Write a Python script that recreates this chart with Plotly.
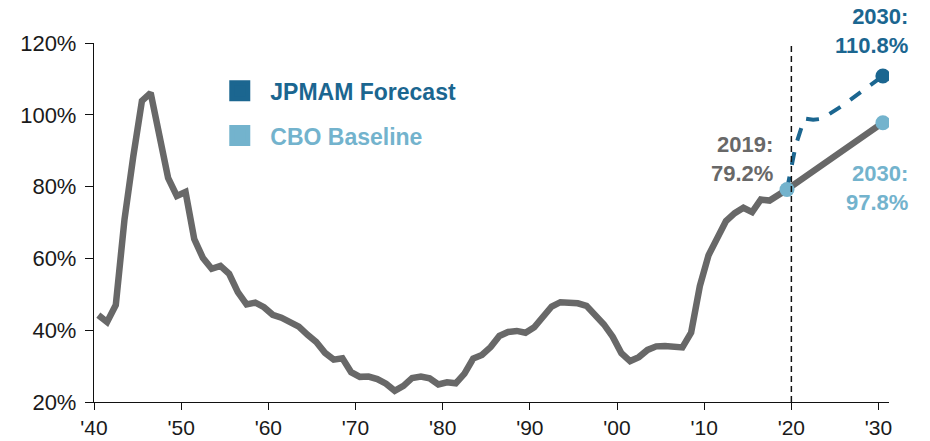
import plotly.graph_objects as go

# Federal debt held by the public, % of GDP, fiscal years 1940-2019
hist_years = list(range(1940, 2020))
hist_debt = [
    44.2, 42.3, 47.0, 70.9, 88.3, 103.9, 106.1, 93.9, 82.4, 77.4,
    78.5, 65.4, 60.1, 57.1, 57.9, 55.7, 50.6, 47.2, 47.7, 46.4,
    44.3, 43.5, 42.3, 41.0, 38.7, 36.7, 33.7, 31.8, 32.2, 28.3,
    27.0, 27.1, 26.4, 25.1, 23.1, 24.5, 26.7, 27.1, 26.6, 24.9,
    25.5, 25.2, 27.9, 32.1, 33.1, 35.3, 38.4, 39.5, 39.8, 39.3,
    40.8, 44.0, 46.6, 47.8, 47.7, 47.5, 46.8, 44.5, 41.6, 38.2,
    33.6, 31.4, 32.5, 34.5, 35.5, 35.6, 35.3, 35.2, 39.3, 52.3,
    60.9, 65.9, 70.4, 72.6, 74.1, 72.9, 76.4, 76.1, 77.4, 79.2,
]

# Projections 2019-2030 (both start from the 2019 actual)
proj_years = list(range(2019, 2031))
cbo_baseline = [79.2, 80.9, 82.6, 84.3, 86.0, 87.7, 89.4, 91.0, 92.7, 94.4, 96.1, 97.8]
jpmam_forecast = [79.2, 91.5, 99.0, 98.6, 98.9, 100.3, 102.0, 103.7, 105.4, 107.1, 108.9, 110.8]

x_ticks = [1940, 1950, 1960, 1970, 1980, 1990, 2000, 2010, 2020, 2030]
x_labels = ["'40", "'50", "'60", "'70", "'80", "'90", "'00", "'10", "'20", "'30"]
y_ticks = [20, 40, 60, 80, 100, 120]
y_labels = [f"{v}%" for v in y_ticks]

GRAY = "#686868"
DARK_BLUE = "#1b6690"
LIGHT_BLUE = "#73b3cd"
FONT = "Liberation Sans, Arial, sans-serif"

# each fiscal year is drawn at the middle of its year interval
def mid(years):
    return [y + 0.5 for y in years]

fig = go.Figure()

# history + CBO baseline as one continuous gray line
fig.add_trace(go.Scatter(
    x=mid(hist_years) + mid(proj_years[1:]),
    y=hist_debt + cbo_baseline[1:],
    mode="lines", line=dict(color=GRAY, width=6.5, shape="linear"),
    showlegend=False, hoverinfo="skip",
))

# JPMAM forecast, dashed
fig.add_trace(go.Scatter(
    x=mid(proj_years), y=jpmam_forecast,
    mode="lines", line=dict(color=DARK_BLUE, width=4, dash="13px,12px"),
    showlegend=False, hoverinfo="skip",
))

# end-point markers
fig.add_trace(go.Scatter(
    x=[mid(proj_years)[-1]], y=[jpmam_forecast[-1]],
    mode="markers", marker=dict(color=DARK_BLUE, size=15),
    showlegend=False, hoverinfo="skip",
))
fig.add_trace(go.Scatter(
    x=[mid(proj_years)[0], mid(proj_years)[-1]],
    y=[cbo_baseline[0], cbo_baseline[-1]],
    mode="markers", marker=dict(color=LIGHT_BLUE, size=15),
    showlegend=False, hoverinfo="skip",
))

# legend entries
for name, color in [("JPMAM Forecast", DARK_BLUE), ("CBO Baseline", LIGHT_BLUE)]:
    fig.add_trace(go.Scatter(
        x=[None], y=[None], mode="markers",
        name=f"<span style='color:{color}'><b>{name}</b></span>",
        legendgroup=name,
        marker=dict(symbol="square", size=16, color=color, line=dict(color=color, width=5)),
    ))

# 2020 divider
fig.add_shape(type="line", xref="x", yref="paper", x0=2020, x1=2020, y0=0, y1=1,
              line=dict(color="#111111", width=1.5, dash="6px,4px"))

# value labels
label_font = dict(family=FONT, size=22)
fig.add_annotation(x=mid(proj_years)[-1], y=jpmam_forecast[-1], xref="x", yref="y",
                   text=f"<b>2030:<br>{jpmam_forecast[-1]:.1f}%</b>", showarrow=False,
                   xanchor="right", yanchor="bottom", align="right", xshift=27, yshift=16,
                   font=dict(label_font, color=DARK_BLUE))
fig.add_annotation(x=mid(proj_years)[-1], y=cbo_baseline[-1], xref="x", yref="y",
                   text=f"<b>2030:<br>{cbo_baseline[-1]:.1f}%</b>", showarrow=False,
                   xanchor="right", yanchor="top", align="right", xshift=27, yshift=-36,
                   font=dict(label_font, color=LIGHT_BLUE))
fig.add_annotation(x=mid(proj_years)[0], y=cbo_baseline[0], xref="x", yref="y",
                   text=f"<b>2019:<br>{cbo_baseline[0]:.1f}%</b>", showarrow=False,
                   xanchor="right", yanchor="bottom", align="right", xshift=-12, yshift=1,
                   font=dict(label_font, color=GRAY))

fig.update_layout(
    width=930, height=441,
    margin=dict(l=94, r=41, t=43, b=39),
    paper_bgcolor="white", plot_bgcolor="white",
    font=dict(family=FONT, color="#1a1a1a"),
    legend=dict(x=0.145, y=0.927, xanchor="left", yanchor="top",
                font=dict(family=FONT, size=23), itemwidth=51,
                tracegroupgap=12, bgcolor="rgba(0,0,0,0)"),
    xaxis=dict(range=[1940, 2031.2], tickvals=x_ticks, ticktext=x_labels,
               showgrid=False, zeroline=False, showline=True, linecolor="#111111",
               linewidth=1.3, ticks="outside", ticklen=7, tickcolor="#111111",
               tickwidth=1.3, ticklabelstandoff=0, automargin=False,
               tickfont=dict(size=21, color="#1a1a1a")),
    yaxis=dict(range=[20, 120], tickvals=y_ticks, ticktext=y_labels,
               showgrid=False, zeroline=False, showline=True, linecolor="#111111",
               linewidth=1.3, ticks="outside", ticklen=8, tickcolor="#111111",
               tickwidth=1.3, ticklabelstandoff=4, automargin=False,
               tickfont=dict(size=22, color="#1a1a1a")),
)

fig.write_html("out.html")
